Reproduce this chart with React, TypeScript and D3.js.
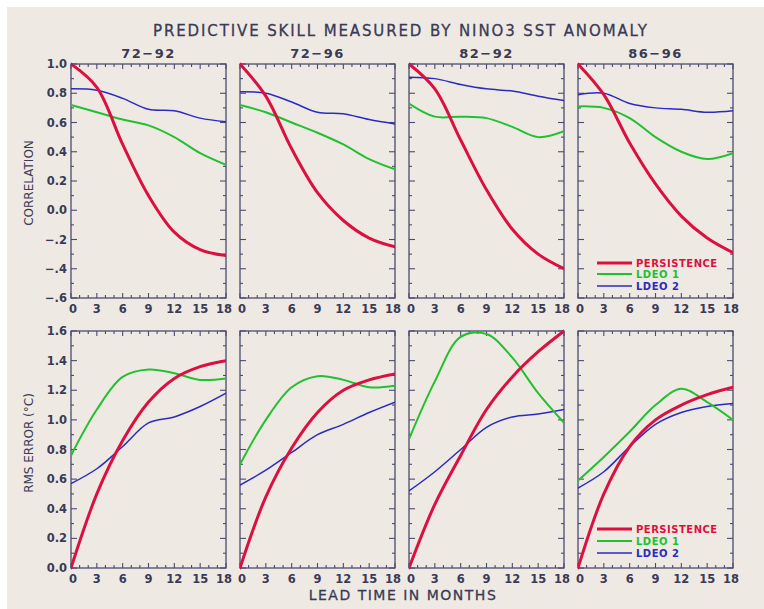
import React from "react";
import * as d3 from "d3";

// lead time grid (months)
const MONTHS = [0, 3, 6, 9, 12, 15, 18];
const PERIODS = ["72-92", "72-96", "82-92", "86-96"];

// correlation, one row per period
const CORR_PERSISTENCE = [
  [1.0, 0.84, 0.45, 0.1, -0.15, -0.27, -0.31],
  [1.0, 0.78, 0.42, 0.12, -0.07, -0.19, -0.25],
  [1.0, 0.83, 0.48, 0.14, -0.13, -0.3, -0.4],
  [1.0, 0.79, 0.46, 0.18, -0.04, -0.19, -0.29],
];
const CORR_LDEO1 = [
  [0.72, 0.67, 0.62, 0.58, 0.5, 0.39, 0.31],
  [0.72, 0.67, 0.6, 0.53, 0.45, 0.35, 0.28],
  [0.73, 0.64, 0.64, 0.63, 0.57, 0.5, 0.54],
  [0.71, 0.7, 0.63, 0.5, 0.4, 0.35, 0.39],
];
const CORR_LDEO2 = [
  [0.83, 0.82, 0.765, 0.69, 0.68, 0.63, 0.605],
  [0.81, 0.8, 0.74, 0.67, 0.66, 0.62, 0.59],
  [0.91, 0.9, 0.86, 0.83, 0.815, 0.78, 0.75],
  [0.79, 0.8, 0.73, 0.7, 0.69, 0.67, 0.68],
];

// rms error (deg C)
const RMS_PERSISTENCE = [
  [0.0, 0.5, 0.86, 1.12, 1.28, 1.36, 1.4],
  [0.0, 0.48, 0.81, 1.05, 1.2, 1.27, 1.31],
  [0.0, 0.43, 0.76, 1.07, 1.29, 1.46, 1.6],
  [0.0, 0.5, 0.82, 1.0, 1.1, 1.17, 1.22],
];
const RMS_LDEO1 = [
  [0.76, 1.07, 1.29, 1.34, 1.315, 1.27, 1.28],
  [0.7, 1.0, 1.22, 1.295, 1.27, 1.22, 1.23],
  [0.87, 1.26, 1.56, 1.58, 1.42, 1.18, 0.98],
  [0.59, 0.75, 0.92, 1.1, 1.21, 1.12, 1.0],
];
const RMS_LDEO2 = [
  [0.57, 0.67, 0.82, 0.98, 1.02, 1.09, 1.18],
  [0.56, 0.66, 0.78, 0.9, 0.97, 1.05, 1.12],
  [0.52, 0.65, 0.8, 0.95, 1.02, 1.04, 1.07],
  [0.54, 0.65, 0.82, 0.97, 1.05, 1.09, 1.11],
];

const LEGEND = ["PERSISTENCE", "LDEO 1", "LDEO 2"];

const W = 764;
const H = 609;
const BG = "#eeeae3";
const INK = "#3a3a56";
const AXIS = "#4b4b70";
const RED = "#dc1040";
const GREEN = "#22c030";
const BLUE = "#2b2bc0";
const FONT = "'DejaVu Sans', sans-serif";

const PANEL_W = 155;
const PANEL_STEP = 169;
const PANEL_X0 = 71;

const rows = [
  {
    top: 64,
    bottom: 298,
    domain: [-0.6, 1.0],
    series: [CORR_PERSISTENCE, CORR_LDEO1, CORR_LDEO2],
    fmt: (v: number) => (v < -0.001 ? "\u2212" + Math.abs(v).toFixed(1).slice(1) : v.toFixed(1)),
    label: "CORRELATION",
    labelY: 183,
    legendY: [263, 274, 286],
  },
  {
    top: 331,
    bottom: 568,
    domain: [0, 1.6],
    series: [RMS_PERSISTENCE, RMS_LDEO1, RMS_LDEO2],
    fmt: (v: number) => v.toFixed(1),
    label: "RMS ERROR (\u00B0C)",
    labelY: 443,
    legendY: [529, 541, 553],
  },
];

const styles = [
  { color: RED, width: 3 },
  { color: GREEN, width: 2 },
  { color: BLUE, width: 1.5 },
];

function Panel({ row, col }: { row: any; col: number }) {
  const x0 = PANEL_X0 + col * PANEL_STEP;
  const x = d3.scaleLinear().domain([0, 18]).range([x0, x0 + PANEL_W]);
  const y = d3.scaleLinear().domain(row.domain).range([row.bottom, row.top]);
  const monthTicks = d3.range(0, 19, 1);
  const valueTicks = d3.range(0, 17, 1).map((i) => row.domain[0] + i * 0.1);

  const line = d3
    .line<number>()
    .x((_, i) => x(MONTHS[i]))
    .y((d) => y(d))
    .curve(d3.curveCatmullRom.alpha(0.5));

  return (
    <g>
      <defs>
        <clipPath id={`clip-${row.top}-${col}`}>
          <rect x={x0} y={row.top - 2} width={PANEL_W} height={row.bottom - row.top + 4} />
        </clipPath>
      </defs>
      <rect x={x0} y={row.top} width={PANEL_W} height={row.bottom - row.top} fill="none" stroke={AXIS} strokeWidth={1.3} />
      {monthTicks.map((m) => {
        const len = m % 3 === 0 ? 5 : 3;
        return (
          <g key={"m" + m} stroke={AXIS} strokeWidth={1.1}>
            <line x1={x(m)} x2={x(m)} y1={row.bottom} y2={row.bottom - len} />
            <line x1={x(m)} x2={x(m)} y1={row.top} y2={row.top + len} />
          </g>
        );
      })}
      {valueTicks.map((v, i) => {
        const len = i % 2 === 0 ? 6 : 3;
        return (
          <g key={"v" + i} stroke={AXIS} strokeWidth={1.1}>
            <line x1={x0} x2={x0 + len} y1={y(v)} y2={y(v)} />
            <line x1={x0 + PANEL_W} x2={x0 + PANEL_W - len} y1={y(v)} y2={y(v)} />
          </g>
        );
      })}
      {MONTHS.map((m) => (
        <text key={"ml" + m} x={x(m) + (m === 0 ? 2 : m === 18 ? -2 : 0)} y={row.bottom + 15} textAnchor="middle" fontSize={11.5} fontWeight="bold" fill={INK} fontFamily={FONT}>
          {m}
        </text>
      ))}
      {col === 0 &&
        valueTicks
          .filter((_, i) => i % 2 === 0)
          .map((v, i) => (
            <text key={"yl" + i} x={x0 - 4} y={y(v) + 4} textAnchor="end" fontSize={11.5} fontWeight="bold" fill={INK} fontFamily={FONT}>
              {row.fmt(v)}
            </text>
          ))}
      <g clipPath={`url(#clip-${row.top}-${col})`}>
        {[2, 1, 0].map((s) => (
          <path
            key={"s" + s}
            d={line(row.series[s][col]) || ""}
            fill="none"
            stroke={styles[s].color}
            strokeWidth={styles[s].width}
            strokeLinecap="round"
          />
        ))}
      </g>
      {col === 3 &&
        LEGEND.map((name, s) => (
          <g key={"lg" + s}>
            <line x1={x0 + 19} x2={x0 + 54} y1={row.legendY[s]} y2={row.legendY[s]} stroke={styles[s].color} strokeWidth={styles[s].width} />
            <text x={x0 + 58} y={row.legendY[s] + 4} fontSize={10} fontWeight="bold" fill={styles[s].color} fontFamily={FONT} letterSpacing={0.5}>
              {name}
            </text>
          </g>
        ))}
    </g>
  );
}

export default function App() {
  return (
    <svg width={W} height={H} style={{ position: "absolute", left: 0, top: 0, background: "#fff" }}>
      <rect x={7} y={7} width={W - 7} height={H - 7} fill={BG} />
      <text x={400} y={36} textAnchor="middle" fontSize={15} fill={INK} fontFamily={FONT} textLength={494} lengthAdjust="spacing" stroke={INK} strokeWidth={0.3}>
        PREDICTIVE SKILL MEASURED BY NINO3 SST ANOMALY
      </text>
      {PERIODS.map((p, i) => (
        <text key={p} x={PANEL_X0 + i * PANEL_STEP + PANEL_W / 2} y={58} textAnchor="middle" fontSize={13} fontWeight="bold" fill={INK} fontFamily={FONT} letterSpacing={1.5}>
          {p.replace("-", "\u2212")}
        </text>
      ))}
      {rows.map((row, r) => (
        <g key={"row" + r}>
          {PERIODS.map((_, c) => (
            <Panel key={c} row={row} col={c} />
          ))}
          <text
            transform={`translate(33,${row.labelY}) rotate(-90)`}
            textAnchor="middle"
            fontSize={12}
            fill={INK}
            fontFamily={FONT}
          >
            {row.label}
          </text>
        </g>
      ))}
      <text x={403} y={600} textAnchor="middle" fontSize={14} fill={INK} fontFamily={FONT} letterSpacing={1.5} stroke={INK} strokeWidth={0.3}>
        LEAD TIME IN MONTHS
      </text>
    </svg>
  );
}
